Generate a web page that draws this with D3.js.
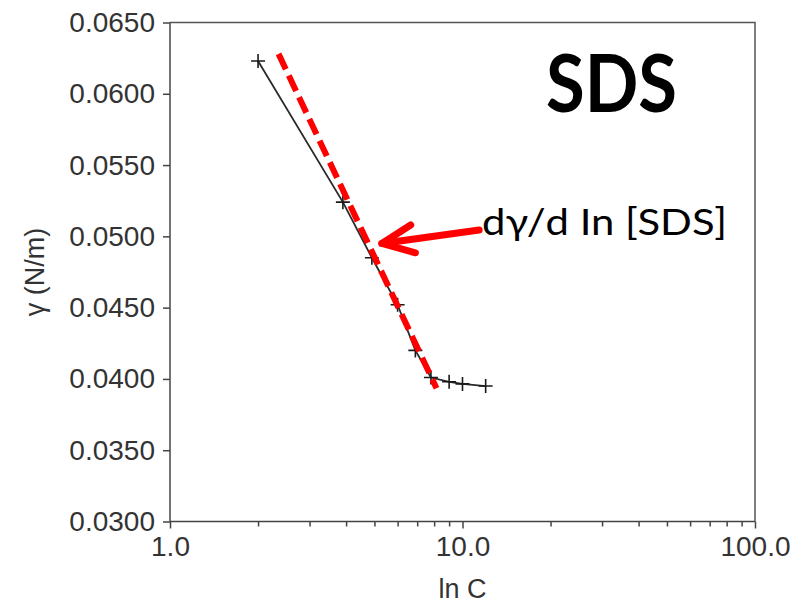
<!DOCTYPE html>
<html>
<head>
<meta charset="utf-8">
<script src="https://cdn.jsdelivr.net/npm/d3@7/dist/d3.min.js"></script>
<style>
  html, body { margin: 0; padding: 0; background: #ffffff; }
  svg { display: block; }
  .axis text { font-family: "Liberation Sans", Arial, sans-serif; font-size: 28px; fill: #333; }
  .axis path, .axis line { stroke: #444; stroke-width: 1.5; }
</style>
</head>
<body>
<svg id="chart" width="802" height="603"></svg>
<script>
// Surface tension of SDS solutions vs concentration (log scale)
const concentration = [2.0, 3.9, 4.9, 6.0, 6.9, 7.8, 9.0, 10.0, 12.0];
const surfaceTension = [0.0623, 0.0524, 0.0485, 0.0452, 0.0420, 0.0401, 0.0398, 0.03965, 0.0395];

// Linear fit of the steep region (dashed red line)
const fitX = [2.35, 8.15];
const fitY = [0.0628, 0.03935];

// Annotation arrow, in data units: tail, tip, and the two head wings
const arrowShaft = [[11.4, 0.05045], [5.3, 0.0495]];
const arrowHead = [[6.65, 0.0508], [5.3, 0.0495], [6.9, 0.04885]];

const yTicks = [0.030, 0.035, 0.040, 0.045, 0.050, 0.055, 0.060, 0.065];
const xMajorTicks = [1, 10, 100];
const xMinorTicks = [2, 3, 4, 5, 6, 7, 8, 9, 20, 30, 40, 50, 60, 70, 80, 90];

const svg = d3.select("#chart");
const plotLeft = 170, plotRight = 755, plotTop = 22.5, plotBottom = 521.5;

const x = d3.scaleLog().domain([1, 100]).range([plotLeft, plotRight]);
const y = d3.scaleLinear().domain([0.030, 0.065]).range([plotBottom, plotTop]);

// Frame (top and right edges)
svg.append("path")
  .attr("d", `M${plotLeft},${plotTop}H${plotRight}V${plotBottom}`)
  .attr("fill", "none")
  .attr("stroke", "#555")
  .attr("stroke-width", 1.5);

// Left axis
svg.append("g")
  .attr("class", "axis")
  .attr("transform", `translate(${plotLeft},0)`)
  .call(d3.axisLeft(y).tickValues(yTicks).tickFormat(d3.format(".4f")).tickSize(7).tickPadding(8))
  .call(g => g.select(".domain").attr("d", `M0,${plotBottom}V${plotTop}`));

// Bottom axis: minor ticks
svg.append("g")
  .attr("class", "axis")
  .attr("transform", `translate(0,${plotBottom})`)
  .call(d3.axisBottom(x).tickValues(xMinorTicks).tickFormat("").tickSize(5).tickSizeOuter(0))
  .call(g => g.select(".domain").remove());

// Bottom axis: major ticks with labels
svg.append("g")
  .attr("class", "axis")
  .attr("transform", `translate(0,${plotBottom})`)
  .call(d3.axisBottom(x).tickValues(xMajorTicks).tickFormat(d3.format(".1f")).tickSize(7).tickPadding(8).tickSizeOuter(0))
  .call(g => g.select(".domain").attr("d", `M${plotLeft},0H${plotRight}`));

// Axis titles
svg.append("text")
  .attr("x", (plotLeft + plotRight) / 2)
  .attr("y", 598)
  .attr("text-anchor", "middle")
  .style("font-family", "'Liberation Sans', Arial, sans-serif")
  .style("font-size", "27px")
  .style("fill", "#333")
  .text("ln C");

svg.append("text")
  .attr("transform", `translate(44,${(plotTop + plotBottom) / 2}) rotate(-90)`)
  .attr("text-anchor", "middle")
  .style("font-family", "'Liberation Sans', Arial, sans-serif")
  .style("font-size", "27px")
  .style("fill", "#333")
  .text("γ (N/m)");

// Measured data line
const pts = concentration.map((c, i) => [c, surfaceTension[i]]);
svg.append("path")
  .datum(pts)
  .attr("d", d3.line().x(d => x(d[0])).y(d => y(d[1])))
  .attr("fill", "none")
  .attr("stroke", "#2a2a2a")
  .attr("stroke-width", 1.8);

// Cross markers
const cross = svg.append("g").attr("stroke", "#1a1a1a").attr("stroke-width", 1.6);
cross.selectAll("path")
  .data(pts)
  .join("path")
  .attr("d", d => {
    const cx = x(d[0]), cy = y(d[1]), s = 7;
    return `M${cx - s},${cy}H${cx + s}M${cx},${cy - s}V${cy + s}`;
  });

// Fitted slope (dashed red)
svg.append("path")
  .datum(fitX.map((v, i) => [v, fitY[i]]))
  .attr("d", d3.line().x(d => x(d[0])).y(d => y(d[1])))
  .attr("fill", "none")
  .attr("stroke", "#ff0000")
  .attr("stroke-width", 6)
  .attr("stroke-dasharray", "17,7");

// Arrow pointing to the fitted slope
const arrowLine = d3.line().x(d => x(d[0])).y(d => y(d[1]));
[arrowShaft, arrowHead].forEach(seg => {
  svg.append("path")
    .attr("d", arrowLine(seg))
    .attr("fill", "none")
    .attr("stroke", "#ff0000")
    .attr("stroke-width", 7)
    .attr("stroke-linecap", "round")
    .attr("stroke-linejoin", "round");
});

// Annotation texts
svg.append("text")
  .attr("x", 482)
  .attr("y", 235)
  .attr("textLength", 245)
  .attr("lengthAdjust", "spacingAndGlyphs")
  .style("font-family", "Lato, 'Noto Sans', sans-serif")
  .style("font-size", "37px")
  .style("fill", "#000")
  .text("dγ/d In [SDS]");

svg.append("text")
  .attr("x", 546)
  .attr("y", 112)
  .attr("textLength", 131)
  .attr("lengthAdjust", "spacingAndGlyphs")
  .style("font-family", "Lato, 'Noto Sans', sans-serif")
  .style("font-weight", "bold")
  .style("font-size", "80px")
  .style("fill", "#000")
  .text("SDS");
</script>
</body>
</html>
